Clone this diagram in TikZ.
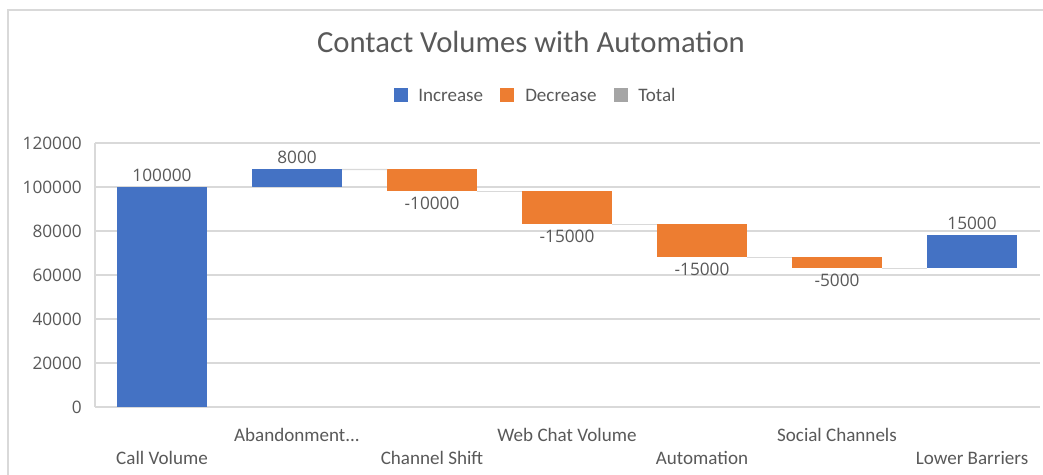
\documentclass[tikz,border=0pt]{standalone}
\usepackage{fontspec}
\setmainfont{Carlito}
\newfontfamily\numfont{Open Sans}
\definecolor{incblue}{HTML}{4472C4}
\definecolor{decorange}{HTML}{ED7D31}
\definecolor{totgray}{HTML}{A5A5A5}
\definecolor{txtgray}{HTML}{595959}
\definecolor{gridgray}{HTML}{D9D9D9}
\begin{document}
\begin{tikzpicture}[x=0.75pt,y=-0.75pt,
  bar/.style={draw=none,inner sep=0pt,outer sep=0pt,minimum width=67.5pt},
  conn/.style={draw=gridgray,line width=0.9pt},
  grid/.style={draw=gridgray,line width=0.9pt},
  val/.style={text=txtgray,font=\numfont\fontsize{12.9}{14}\selectfont,inner sep=0pt},
  axlbl/.style={text=txtgray,font=\numfont\fontsize{12.9}{14}\selectfont,inner sep=0pt,anchor=east},
  cat/.style={text=txtgray,font=\fontsize{14.3}{16}\selectfont,inner sep=0pt},
  legbox/.style={draw=none,inner sep=0pt,minimum size=10.5pt},
  legtxt/.style={text=txtgray,font=\fontsize{14.3}{16}\selectfont,inner sep=0pt,anchor=west}]
% canvas and chart frame
\fill[white] (0,0) rectangle (1043,475);
\useasboundingbox (0,0) rectangle (1043,475);
\draw[gridgray,line width=1.5pt] (8,475) -- (8,10) -- (1043,10);
% title
\node[text=txtgray,font=\fontsize{23}{26}\selectfont,inner sep=0pt] (title) at (531,42) {Contact Volumes with Automation};
% legend
\node[legbox,fill=incblue] (lgi) at (401,95) {};
\node[legtxt] (lgit) at (418,95) {Increase};
\node[legbox,fill=decorange] (lgd) at (507,95) {};
\node[legtxt] (lgdt) at (525,95) {Decrease};
\node[legbox,fill=totgray] (lgt) at (621,95) {};
\node[legtxt] (lgtt) at (638,95) {Total};
% gridlines and value axis
\foreach \k/\v in {0/0,1/20000,2/40000,3/60000,4/80000,5/100000,6/120000}{
  \draw[grid] (95,407-44*\k) -- (1040,407-44*\k);
  \node[axlbl] (ax\k) at (82,407-44*\k) {\v};
}
\draw[grid] (95,143) -- (95,407);
% waterfall bars
\node[bar,fill=incblue,minimum height=165pt]   (cv) at (162,297) {};
\node[bar,fill=incblue,minimum height=13.2pt]  (ab) at (297,178.2) {};
\node[bar,fill=decorange,minimum height=16.5pt] (cs) at (432,180.4) {};
\node[bar,fill=decorange,minimum height=24.75pt] (wc) at (567,207.9) {};
\node[bar,fill=decorange,minimum height=24.75pt] (au) at (702,240.9) {};
\node[bar,fill=decorange,minimum height=8.25pt] (sc) at (837,262.9) {};
\node[bar,fill=incblue,minimum height=24.75pt] (lb) at (972,251.9) {};
% running-total connectors
\draw[conn] (cv.north east) -- (ab.south west);
\draw[conn] (ab.north east) -- (cs.north west);
\draw[conn] (cs.south east) -- (wc.north west);
\draw[conn] (wc.south east) -- (au.north west);
\draw[conn] (au.south east) -- (sc.north west);
\draw[conn] (sc.south east) -- (lb.south west);
% data labels
\node[val] (vcv) at ([yshift=9pt]cv.north) {100000};
\node[val] (vab) at ([yshift=9pt]ab.north) {8000};
\node[val] (vcs) at ([yshift=-9.3pt]cs.south) {-10000};
\node[val] (vwc) at ([yshift=-9.3pt]wc.south) {-15000};
\node[val] (vau) at ([yshift=-9.3pt]au.south) {-15000};
\node[val] (vsc) at ([yshift=-9.3pt]sc.south) {-5000};
\node[val] (vlb) at ([yshift=9pt]lb.north) {15000};
% category labels, staggered
\node[cat] (ccv) at (162,458) {Call Volume};
\node[cat] (cab) at (297,435) {Abandonment...};
\node[cat] (ccs) at (432,458) {Channel Shift};
\node[cat] (cwc) at (567,435) {Web Chat Volume};
\node[cat] (cau) at (702,458) {Automation};
\node[cat] (csc) at (837,435) {Social Channels};
\node[cat] (clb) at (972,458) {Lower Barriers};
\end{tikzpicture}
\end{document}
